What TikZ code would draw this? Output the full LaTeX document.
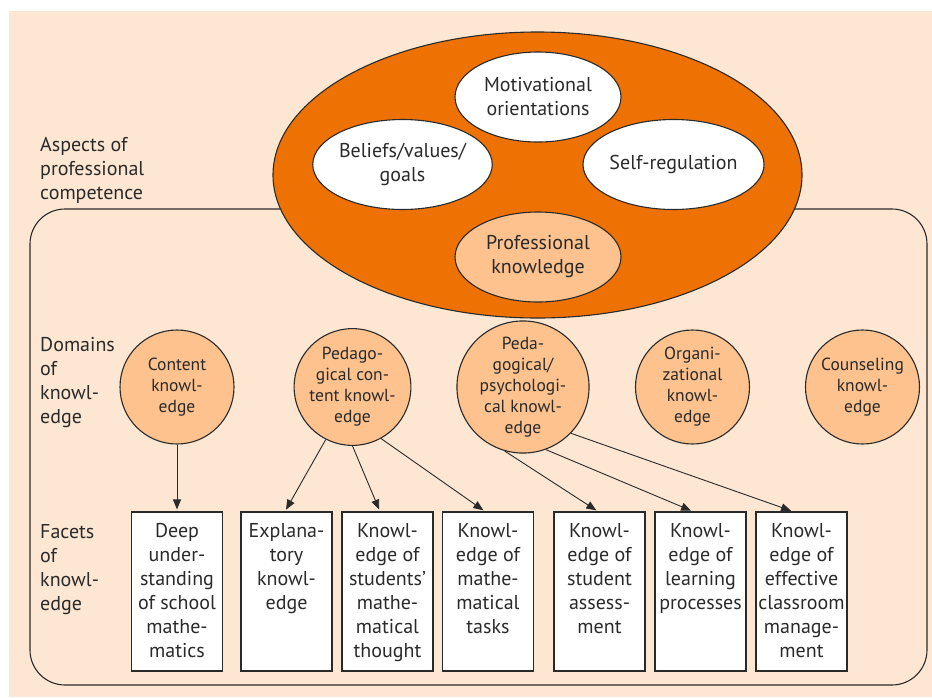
\documentclass[tikz,border=0pt]{standalone}
\usepackage{fontspec}
\setmainfont{PT Sans}
\usetikzlibrary{arrows.meta,shapes.geometric}
\definecolor{bgpeach}{HTML}{FDE7D3}
\definecolor{deeporange}{HTML}{EE7203}
\definecolor{lightorange}{HTML}{FDC28E}
\definecolor{ink}{HTML}{2A2A2A}
\begin{document}
\begin{tikzpicture}[x=1pt,y=-1pt,
  outline/.style={draw=ink,line width=1.1pt},
  % multi-line nodes below are placed by the baseline of their last line
  sidelabel/.style={anchor=base west,align=left,inner sep=0pt,text=ink,
    font=\fontsize{20}{24}\selectfont},
  aspect/.style={outline,ellipse,fill=white,minimum width=166pt,minimum height=90pt,
    inner sep=0pt,align=center,text=ink,font=\fontsize{20}{24}\selectfont},
  domainnode/.style={outline,circle,fill=lightorange,minimum size=114pt,inner sep=0pt,
    align=center,text=ink,font=\fontsize{17.5}{21}\selectfont},
  facet/.style={outline,rectangle,fill=white,minimum width=91pt,minimum height=159pt,
    inner sep=0pt},
  facettext/.style={anchor=base,align=center,inner sep=0pt,text=ink,
    font=\fontsize{20}{24}\selectfont},
  arr/.style={draw=ink,line width=0.9pt,-{Triangle[length=10pt,width=8pt]},shorten >=2pt}
]
\useasboundingbox (0,0) rectangle (932,697);
% background panel
\fill[bgpeach] (9,11) rectangle (932,697);
% frame around domains and facets
\draw[outline,rounded corners=35pt] (30,209) rectangle (927,685);

% aspects of professional competence
\node[outline,ellipse,fill=deeporange,minimum width=529pt,minimum height=286pt,inner sep=0pt]
  (competence) at (537.5,175) {};
\node[aspect] (motiv) at (538,97) {Motivational\\orientations};
\node[aspect] (beliefs) at (402.5,164.5) {Beliefs/values/\\goals};
\node[aspect] (selfreg) at (673.5,164.5) {Self-regulation};
\node[aspect,fill=lightorange] (profk) at (538,257) {Professional\\knowledge};

% row labels
\node[sidelabel] (aspects) at (40,199) {Aspects of\\professional\\competence};
\node[sidelabel] (domains) at (40,423) {Domains\\of\\knowl-\\edge};
\node[sidelabel] (facets) at (40,610) {Facets\\of\\knowl-\\edge};

% domains of knowledge
\node[domainnode] (content) at (177,387) {Content\\knowl-\\edge};
\node[domainnode] (pck) at (352.5,387) {Pedago-\\gical con-\\tent knowl-\\edge};
\node[domainnode] (ppk) at (523,387) {Peda-\\gogical/\\psychologi-\\cal knowl-\\edge};
\node[domainnode] (org) at (692.5,387) {Organi-\\zational\\knowl-\\edge};
\node[domainnode] (couns) at (862.5,387) {Counseling\\knowl-\\edge};

% facets of knowledge
\node[facet] (f1) at (177,591.5) {};
\node[facet] (f2) at (286.5,591.5) {};
\node[facet] (f3) at (387.5,591.5) {};
\node[facet] (f4) at (488,591.5) {};
\node[facet] (f5) at (599.5,591.5) {};
\node[facet] (f6) at (700.5,591.5) {};
\node[facet] (f7) at (801.5,591.5) {};
\node[facettext] (t1) at ([yshift=-146pt]f1.north) {Deep\\under-\\standing\\of school\\mathe-\\matics};
\node[facettext] (t2) at ([yshift=-98pt]f2.north) {Explana-\\tory\\knowl-\\edge};
\node[facettext] (t3) at ([yshift=-146pt]f3.north) {Knowl-\\edge of\\students'\\mathe-\\matical\\thought};
\node[facettext] (t4) at ([yshift=-122pt]f4.north) {Knowl-\\edge of\\mathe-\\matical\\tasks};
\node[facettext] (t5) at ([yshift=-122pt]f5.north) {Knowl-\\edge of\\student\\assess-\\ment};
\node[facettext] (t6) at ([yshift=-98pt]f6.north) {Knowl-\\edge of\\learning\\processes};
\node[facettext] (t7) at ([yshift=-146pt]f7.north) {Knowl-\\edge of\\effective\\classroom\\manage-\\ment};

% links from domains to facets
\draw[arr] (content.270) -- (f1.north);
\draw[arr] (pck.243) -- ([xshift=-1.5pt]f2.north);
\draw[arr] (pck.270) -- ([xshift=-7.5pt]f3.north);
\draw[arr] (pck.299) -- ([xshift=-3pt]f4.north);
\draw[arr] (ppk.254) -- ([xshift=-1.5pt]f5.north);
\draw[arr] (ppk.290) -- ([xshift=-7.5pt]f6.north);
\draw[arr] (ppk.316) -- ([xshift=-8.5pt]f7.north);
\end{tikzpicture}
\end{document}
